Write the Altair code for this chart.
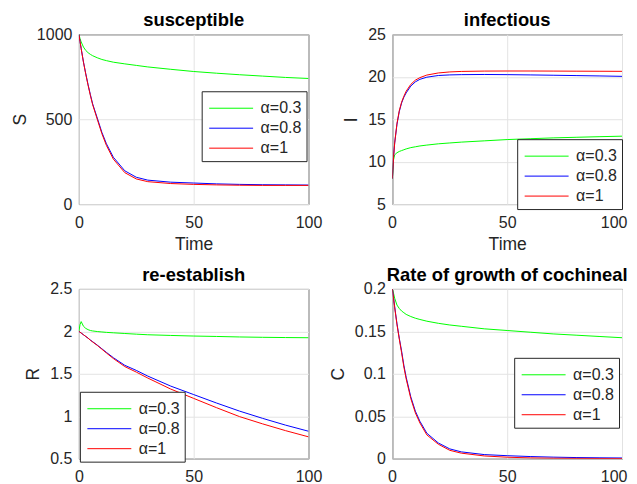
import altair as alt
import pandas as pd

# time grid
t = [0, 0.5, 1, 2, 3, 4, 5, 6, 8, 10, 12, 15, 20, 25, 30, 40, 50, 60, 70, 80, 90, 100]

labels = ["\u03b1=0.3", "\u03b1=0.8", "\u03b1=1"]
colors = ["#00ff00", "#0000ff", "#ff0000"]

# susceptible S
S_03 = [1000, 975, 955, 925, 905, 892, 882, 874, 862, 852, 845, 836, 826, 817, 808, 794, 781, 771, 762, 754, 746, 740]
S_08 = [1000, 958, 916, 837, 768, 704, 645, 590, 507, 423, 355, 276, 196, 158, 141, 129, 124, 119, 116, 114, 113, 112]
S_10 = [1000, 957, 915, 835, 765, 700, 640, 585, 500, 415, 345, 265, 185, 148, 132, 121, 116, 113, 111, 110, 110, 110]

# infectious I
I_03 = [8.0, 10.2, 10.8, 11.05, 11.2, 11.3, 11.4, 11.5, 11.65, 11.75, 11.85, 11.95, 12.1, 12.2, 12.3, 12.45, 12.6, 12.7, 12.8, 12.87, 12.94, 13.0]
I_08 = [8.0, 10.5, 12.2, 14.4, 15.9, 16.9, 17.6, 18.1, 18.9, 19.4, 19.7, 19.95, 20.15, 20.22, 20.25, 20.27, 20.25, 20.22, 20.18, 20.14, 20.1, 20.05]
I_10 = [8.0, 10.5, 12.2, 14.5, 16.0, 17.0, 17.7, 18.3, 19.1, 19.6, 19.9, 20.2, 20.45, 20.57, 20.63, 20.67, 20.68, 20.68, 20.67, 20.66, 20.65, 20.64]

# re-establish R
R_03 = [2.0, 2.08, 2.115, 2.06, 2.035, 2.02, 2.01, 2.005, 1.998, 1.993, 1.988, 1.983, 1.975, 1.967, 1.96, 1.952, 1.945, 1.94, 1.934, 1.93, 1.927, 1.925]
R_08 = [2.0, 1.99, 1.98, 1.96, 1.94, 1.92, 1.898, 1.878, 1.838, 1.795, 1.752, 1.69, 1.6, 1.54, 1.473, 1.355, 1.255, 1.155, 1.06, 0.975, 0.895, 0.823]
R_10 = [2.0, 1.99, 1.98, 1.96, 1.94, 1.92, 1.895, 1.875, 1.835, 1.79, 1.745, 1.68, 1.585, 1.52, 1.45, 1.32, 1.21, 1.1, 0.995, 0.91, 0.83, 0.757]

# cochineal C
C_03 = [0.2, 0.195, 0.189, 0.181, 0.177, 0.174, 0.172, 0.170, 0.1675, 0.1655, 0.164, 0.162, 0.1595, 0.1575, 0.156, 0.153, 0.151, 0.149, 0.147, 0.1455, 0.144, 0.1425]
C_08 = [0.2, 0.19, 0.179, 0.159, 0.142, 0.127, 0.11, 0.096, 0.073, 0.056, 0.044, 0.030, 0.0185, 0.0115, 0.008, 0.0048, 0.0035, 0.0025, 0.0018, 0.0013, 0.001, 0.0008]
C_10 = [0.2, 0.189, 0.178, 0.158, 0.141, 0.125, 0.108, 0.094, 0.071, 0.054, 0.042, 0.028, 0.017, 0.0098, 0.0065, 0.0032, 0.0017, 0.0009, 0.0005, 0.0003, 0.0002, 0.0001]

rows = []
for lab, s, i, r, c in zip(labels, [S_03, S_08, S_10], [I_03, I_08, I_10],
                           [R_03, R_08, R_10], [C_03, C_08, C_10]):
    for k, tt in enumerate(t):
        rows.append({"t": tt, "series": lab, "S": s[k], "I": i[k], "R": r[k], "C": c[k]})
df = pd.DataFrame(rows)

FONT = "Liberation Sans"
TXT = "#262626"


def panel(field, title, ydom, yvals, yfmt, lx, ly, show_xtitle, right_col):
    if right_col:
        xaxis = alt.Axis(values=[0, 50, 100], title="Time" if show_xtitle else None,
                         format="d", labelFlush=True, labelFlushOffset=5)
    else:
        xaxis = alt.Axis(values=[0, 50, 100], title="Time" if show_xtitle else None,
                         format="d", labelFlush=False)
    return alt.Chart(df).mark_line(strokeWidth=1, clip=True).encode(
        x=alt.X("t:Q", scale=alt.Scale(domain=[0, 100], nice=False, zero=False), axis=xaxis),
        y=alt.Y(f"{field}:Q", scale=alt.Scale(domain=ydom, nice=False, zero=False),
                axis=alt.Axis(values=yvals, title=field, format=yfmt)),
        color=alt.Color("series:N",
                        scale=alt.Scale(domain=labels, range=colors),
                        sort=labels,
                        legend=alt.Legend(orient="none", legendX=lx, legendY=ly, title=" ")),
        order=alt.Order("t:Q"),
    ).properties(width=230, height=170,
                 title=alt.TitleParams(title, frame="group"))


tl = panel("S", "susceptible", [0, 1000], [0, 500, 1000], "d", 123, 57, True, False)
tr = panel("I", "infectious", [5, 25], [5, 10, 15, 20, 25], "d", 125, 105, True, True)
bl = panel("R", "re-establish", [0.5, 2.5], [0.5, 1, 1.5, 2, 2.5], "~g", 1, 103, False, False)
br = panel("C", "Rate of growth of cochineal", [0, 0.2], [0, 0.05, 0.1, 0.15, 0.2], "~g", 122, 69, False, True)

chart = alt.concat(tl, tr, bl, br, columns=2,
                   spacing=alt.RowColnumber(row=11, column=6)).resolve_scale(
    color="independent").resolve_legend(color="independent").properties(
    padding={"left": 2, "top": 2, "right": 0, "bottom": 0}
).configure_view(
    stroke=TXT, strokeWidth=1
).configure_axis(
    labelFont=FONT, titleFont=FONT, labelFontSize=16, titleFontSize=17.5,
    labelColor=TXT, titleColor=TXT, titleFontWeight="normal",
    grid=True, gridColor="#e3e3e3", gridWidth=1,
    domain=False, ticks=False, labelPadding=7, titlePadding=7,
).configure_axisX(
    labelPadding=10, titlePadding=6
).configure_title(
    font=FONT, fontSize=18.4, fontWeight="bold", color="#000000", offset=-3
).configure_legend(
    labelFont=FONT, labelFontSize=16, labelColor=TXT,
    titleFontSize=2, titlePadding=2, titleFont=FONT,
    symbolType="M-1,0H7", symbolSize=121, symbolStrokeWidth=1,
    fillColor="#ffffff", strokeColor=TXT, padding=5, rowPadding=4,
    labelOffset=38, cornerRadius=0
)

chart.save("out.html", embed_options={"renderer": "svg", "actions": False})
